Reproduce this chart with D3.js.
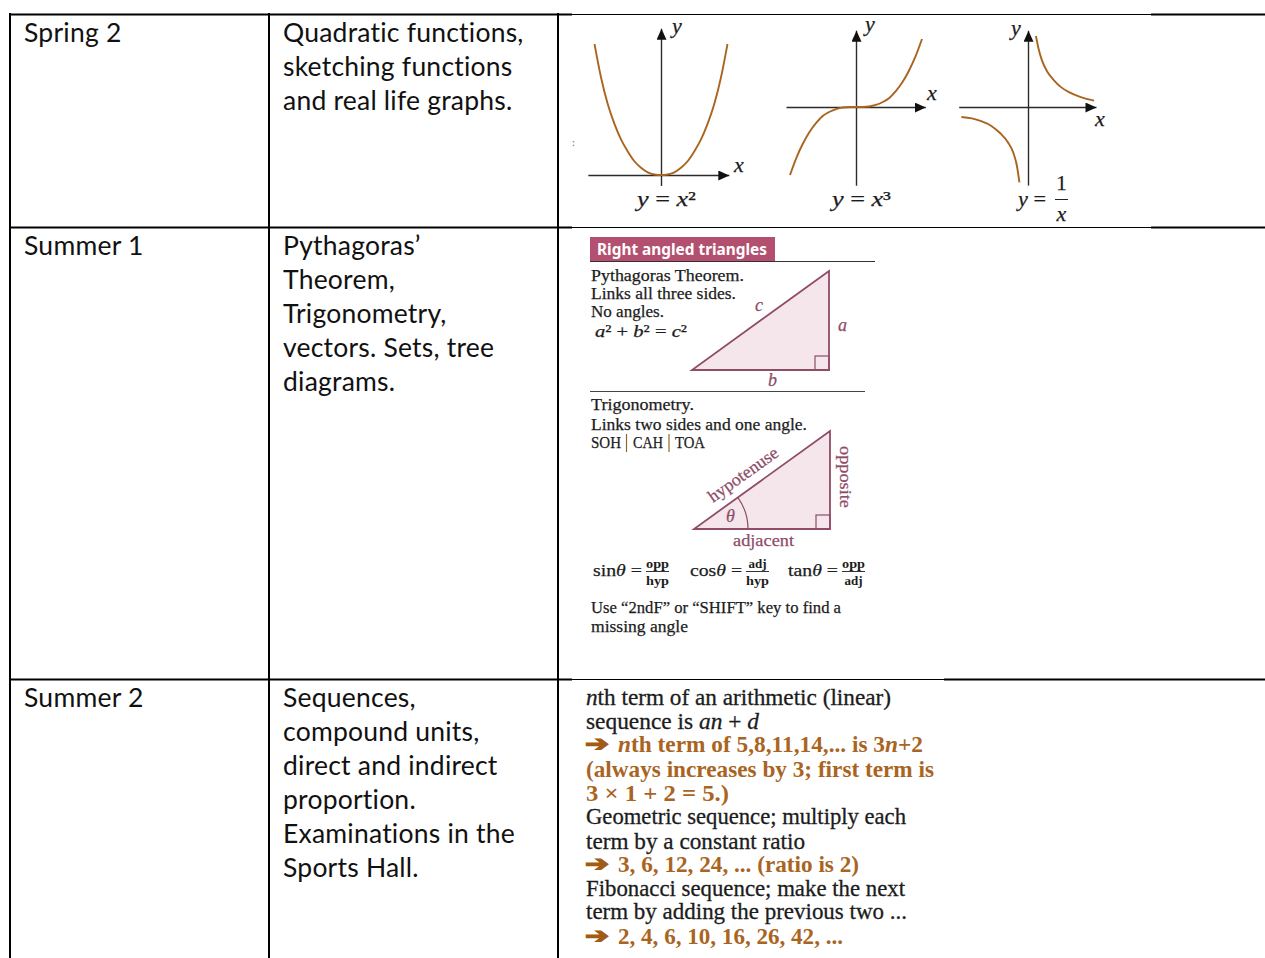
<!DOCTYPE html>
<html>
<head>
<meta charset="utf-8">
<script src="https://cdn.jsdelivr.net/npm/d3@7"></script>
<style>
html, body { margin: 0; padding: 0; background: #fff; overflow: hidden; }
svg { display: block; }
</style>
</head>
<body>
<script>
// table text
var terms = ["Spring 2", "Summer 1", "Summer 2"];
var topics = [
	["Quadratic functions,", "sketching functions", "and real life graphs."],
	["Pythagoras\u2019", "Theorem,", "Trigonometry,", "vectors. Sets, tree", "diagrams."],
	["Sequences,", "compound units,", "direct and indirect", "proportion.", "Examinations in the", "Sports Hall."]
];

// curves
var squareX = [-1, -0.9, -0.8, -0.7, -0.6, -0.5, -0.4, -0.3, -0.2, -0.1, 0, 0.1, 0.2, 0.3, 0.4, 0.5, 0.6, 0.7, 0.8, 0.9, 1];
var squareY = [1, 0.74, 0.54, 0.39, 0.27, 0.18, 0.105, 0.055, 0.02, 0.004, 0, 0.004, 0.02, 0.055, 0.105, 0.18, 0.27, 0.39, 0.54, 0.74, 1];
var cubeX = [-1, -0.9, -0.8, -0.7, -0.6, -0.5, -0.4, -0.3, -0.2, -0.1, 0, 0.1, 0.2, 0.3, 0.4, 0.5, 0.6, 0.7, 0.8, 0.9, 1];
var cubeY = [-1, -0.74, -0.53, -0.36, -0.23, -0.13, -0.07, -0.03, -0.008, -0.001, 0, 0.001, 0.008, 0.03, 0.07, 0.13, 0.23, 0.36, 0.53, 0.74, 1];
var hyperX1 = [0.12, 0.16, 0.21, 0.29, 0.39, 0.5, 0.62, 0.8, 1];
var hyperY1 = [1, 0.82, 0.66, 0.5, 0.38, 0.28, 0.21, 0.14, 0.09];
var hyperX2 = [-1.01, -0.85, -0.71, -0.55, -0.42, -0.31, -0.22, -0.17, -0.13];
var hyperY2 = [-0.14, -0.16, -0.2, -0.27, -0.37, -0.49, -0.65, -0.82, -1.06];

// triangle corners, as fractions of run and rise
var triangleX = [0, 1, 1];
var triangleY = [0, 0, 1];

// text beside the triangles
var pythagorasLines = ["Pythagoras Theorem.", "Links all three sides.", "No angles."];
var trigLines = ["Trigonometry.", "Links two sides and one angle."];
var soh = ["SOH", "CAH", "TOA"];
var ratioNames = ["sin", "cos", "tan"];
var ratioTop = ["opp", "adj", "opp"];
var ratioBottom = ["hyp", "hyp", "adj"];
var shiftLines = ["Use \u201C2ndF\u201D or \u201CSHIFT\u201D key to find a", "missing angle"];

// sequences, *...* is italic, kind 0 black, 1 brown, 2 brown with arrow
var seqLines = [
	"*n*th term of an arithmetic (linear)",
	"sequence is *an* + *d*",
	"*n*th term of 5,8,11,14,... is 3*n*+2",
	"(always increases by 3; first term is",
	"3 \u00D7 1 + 2 = 5.)",
	"Geometric sequence; multiply each",
	"term by a constant ratio",
	"3, 6, 12, 24, ... (ratio is 2)",
	"Fibonacci sequence; make the next",
	"term by adding the previous two ...",
	"2, 4, 6, 10, 16, 26, 42, ..."
];
var seqKind = [0, 0, 2, 1, 1, 0, 0, 2, 0, 0, 2];

var w = 1265, h = 958;
var svg = d3.select("body").append("svg").attr("width", w).attr("height", h);

var sans = "Lato, 'Open Sans', sans-serif";
var serif = "'Liberation Serif', serif";
var brown = "#a9651f", wine = "#8f4c68", ink = "#2b2b2b";

svg.append("defs").append("marker")
	.attr("id", "arrow")
	.attr("markerUnits", "userSpaceOnUse")
	.attr("markerWidth", 12).attr("markerHeight", 10)
	.attr("refX", 11).attr("refY", 5)
	.attr("orient", "auto")
	.append("path").attr("d", "M0,0L11,5L0,10Z").attr("fill", "#111");

// ---- table lines ----
var rowY = d3.scaleOrdinal().domain([0, 1, 2]).range([14, 227, 679]);
var rule = svg.append("g").attr("stroke", "#000");
function hline(x1, x2, y, sw) {
	rule.append("line").attr("x1", x1).attr("x2", x2).attr("y1", y).attr("y2", y).attr("stroke-width", sw);
}
function vline(x) {
	rule.append("line").attr("x1", x).attr("x2", x).attr("y1", 13).attr("y2", h).attr("stroke-width", 2);
}
[10, 269, 558].forEach(vline);
hline(9, 572, 14.5, 2); hline(572, 1151, 14.5, 1); hline(1151, w, 14.5, 2);
hline(9, 572, 227.5, 2); hline(572, 1151, 227.5, 1); hline(1151, w, 227.5, 2);
hline(9, 572, 679.5, 2); hline(572, 944, 679.5, 1); hline(944, w, 679.5, 2);

// ---- first two columns ----
terms.forEach(function(t, i) {
	svg.append("text").attr("x", 24).attr("y", rowY(i) + 28)
		.attr("font-family", sans).attr("font-size", 26.5).attr("fill", "#111")
		.attr("letter-spacing", 0.25)
		.text(t);
});
topics.forEach(function(lines, i) {
	svg.selectAll(null).data(lines).enter().append("text")
		.attr("x", 283)
		.attr("y", function(d, j) { return rowY(i) + 28 + j * 34; })
		.attr("font-family", sans).attr("font-size", 26.5).attr("fill", "#111")
		.attr("letter-spacing", 0.22)
		.text(function(d) { return d; });
});

// ---- graphs ----
function graph(xRange, yRange, yDomain, xExt, yExt, curves) {
	var x = d3.scaleLinear().domain([-1, 1]).range(xRange);
	var y = d3.scaleLinear().domain(yDomain).range(yRange);
	var xAxisScale = d3.scaleLinear().domain(xExt).range(xExt.map(x));
	var yAxisScale = d3.scaleLinear().domain(yExt).range(yExt.map(y));
	var g = svg.append("g");
	g.append("g").attr("transform", "translate(0," + y(0) + ")")
		.call(d3.axisBottom(xAxisScale).tickValues([]).tickSizeOuter(0));
	g.append("g").attr("transform", "translate(" + x(0) + ",0)")
		.call(d3.axisLeft(yAxisScale).tickValues([]).tickSizeOuter(0));
	g.selectAll(".domain").attr("stroke", ink).attr("stroke-width", 1.4).attr("marker-end", "url(#arrow)");
	var line = d3.line()
		.x(function(d) { return x(d[0]); })
		.y(function(d) { return y(d[1]); })
		.curve(d3.curveMonotoneX);
	curves.forEach(function(c) {
		g.append("path").attr("d", line(d3.zip(c[0], c[1])))
			.attr("fill", "none").attr("stroke", brown).attr("stroke-width", 1.9);
	});
}
graph([594.5, 727.5], [175, 44], [0, 1], [-1.1, 1.02], [-0.08, 1.12], [[squareX, squareY]]);
graph([790, 922], [175, 39], [-1, 1], [-1.06, 1.05], [-1.15, 1.13], [[cubeX, cubeY]]);
graph([962, 1094], [178, 36], [-1, 1], [-1.05, 1.03], [-1.1, 1.08], [[hyperX1, hyperY1], [hyperX2, hyperY2]]);

function label(x, y, s, size, fill, opts) {
	opts = opts || {};
	fill = fill || "#1c1c1c";
	var t = svg.append("text").attr("x", x).attr("y", y)
		.attr("font-family", opts.family || serif).attr("font-size", size).attr("fill", fill)
		.attr("stroke", fill).attr("stroke-width", opts.weight == null ? 0.25 : opts.weight)
		.attr("font-style", opts.italic ? "italic" : "normal")
		.attr("font-weight", opts.bold ? "bold" : "normal")
		.attr("text-anchor", opts.anchor || "start");
	if (opts.len) t.attr("textLength", opts.len).attr("lengthAdjust", "spacingAndGlyphs");
	if (opts.rotate != null) t.attr("transform", "rotate(" + opts.rotate + " " + x + " " + y + ")");
	// split *italic* pieces into tspans
	s.split("*").forEach(function(part, i) {
		if (part) t.append("tspan").attr("font-style", (i % 2 || opts.italic) ? "italic" : "normal").text(part);
	});
	return t;
}

var ital = { italic: true };
label(672, 33, "y", 22, null, ital);
label(734, 172, "x", 22, null, ital);
label(865, 31, "y", 22, null, ital);
label(927, 100, "x", 22, null, ital);
label(1011, 35, "y", 22, null, ital);
label(1095, 126, "x", 22, null, ital);
label(637, 206, "*y* = *x*\u00B2", 22, null, { len: 59 });
label(832, 206, "*y* = *x*\u00B3", 22, null, { len: 59 });
label(1018, 206, "*y* =", 22, null, { len: 28 });
label(1061.5, 190, "1", 21, null, { anchor: "middle" });
label(1061.5, 221, "x", 22, null, { anchor: "middle", italic: true });
svg.append("line").attr("x1", 1055).attr("x2", 1068).attr("y1", 199.5).attr("y2", 199.5).attr("stroke", "#222");
label(572, 146, ":", 10, "#5b8fc0");

// ---- right angled triangles ----
svg.append("rect").attr("x", 590).attr("y", 237).attr("width", 185).attr("height", 24).attr("fill", "#b4506f");
label(597, 255, "Right angled triangles", 15.5, "#fff", { bold: true, family: "'Noto Sans', sans-serif", len: 170, weight: 0 });
svg.append("line").attr("x1", 590).attr("x2", 875).attr("y1", 261.5).attr("y2", 261.5).attr("stroke", "#333");
svg.append("line").attr("x1", 590).attr("x2", 865).attr("y1", 391.5).attr("y2", 391.5).attr("stroke", "#444");

function triangle(xRange, yRange) {
	var x = d3.scaleLinear().domain([0, 1]).range(xRange);
	var y = d3.scaleLinear().domain([0, 1]).range(yRange);
	var line = d3.line().x(function(d) { return x(d[0]); }).y(function(d) { return y(d[1]); });
	svg.append("path").attr("d", line(d3.zip(triangleX, triangleY)) + "Z")
		.attr("fill", "#f5e6ec").attr("stroke", wine).attr("stroke-width", 1.8);
	svg.append("rect").attr("x", xRange[1] - 14).attr("y", yRange[0] - 14)
		.attr("width", 14).attr("height", 14)
		.attr("fill", "none").attr("stroke", wine).attr("stroke-width", 1.2);
}
triangle([692, 829], [370, 271]);
triangle([694, 830], [529, 431]);

svg.append("path")
	.attr("transform", "translate(694,529)")
	.attr("d", d3.arc().innerRadius(54).outerRadius(54).startAngle(0.95).endAngle(Math.PI / 2)())
	.attr("fill", "none").attr("stroke", wine).attr("stroke-width", 1.2);

var pythWidths = [153, 145, 73];
pythagorasLines.forEach(function(s, i) {
	label(591, [281, 299, 317][i], s, 17.5, "#1c1c1c", { len: pythWidths[i] });
});
label(595, 337, "*a*\u00B2 + *b*\u00B2 = *c*\u00B2", 17, "#1c1c1c", { len: 92 });
label(755, 311, "c", 18, wine, ital);
label(838, 331, "a", 18, wine, ital);
label(768, 386, "b", 18, wine, ital);

var trigWidths = [103, 216];
trigLines.forEach(function(s, i) {
	label(591, [410, 430][i], s, 17.5, "#1c1c1c", { len: trigWidths[i] });
});
var sohX = [591, 633, 675];
soh.forEach(function(s, i) {
	label(sohX[i], 448, s, 17.5, "#1c1c1c", { len: 30 });
});
[626.5, 669].forEach(function(x) {
	svg.append("line").attr("x1", x).attr("x2", x).attr("y1", 434).attr("y2", 452).attr("stroke", "#8a6a2a").attr("stroke-width", 1.2);
});

label(713, 503, "hypotenuse", 17.5, wine, { rotate: -35.5, len: 82 });
label(840, 446, "opposite", 17.5, wine, { rotate: 90, len: 62 });
label(733, 546, "adjacent", 17.5, wine, { len: 61 });
label(726, 522, "\u03B8", 18, wine, ital);

// sin / cos / tan fractions
var ratioX = [593, 690, 788];
var barX = [646, 746, 842];
var topWidths = [23, 18, 23];
var bottomWidths = [23, 23, 18];
ratioNames.forEach(function(s, i) {
	label(ratioX[i], 576, s + "*\u03B8* =", 17.5, "#1c1c1c", { len: barX[i] - ratioX[i] - 4 });
	label(barX[i] + (23 - topWidths[i]) / 2, 568, ratioTop[i], 12, "#1c1c1c", { bold: true, len: topWidths[i], weight: 0 });
	label(barX[i] + (23 - bottomWidths[i]) / 2, 585, ratioBottom[i], 12, "#1c1c1c", { bold: true, len: bottomWidths[i], weight: 0 });
	svg.append("line").attr("x1", barX[i]).attr("x2", barX[i] + 23).attr("y1", 571.5).attr("y2", 571.5).attr("stroke", "#333");
});

var shiftWidths = [250, 97];
shiftLines.forEach(function(s, i) {
	label(591, [613, 632][i], s, 17.5, "#1c1c1c", { len: shiftWidths[i] });
});

// ---- sequences ----
var seqBase = [705, 729, 752, 777, 801, 824, 849, 872, 896, 919, 944];
var seqWidths = [305, 173, 305, 348, 143, 320, 219, 241, 319, 321, 225];
seqLines.forEach(function(s, i) {
	var kind = seqKind[i];
	var col = kind ? brown : "#1c1c1c";
	label(kind == 2 ? 618 : 586, seqBase[i], s, 23, col, { bold: kind > 0, len: seqWidths[i], weight: kind ? 0 : 0.3 });
	if (kind == 2) label(585, seqBase[i] - 1, "\u2794", 21, "#a05c15", { family: "'DejaVu Sans', sans-serif", bold: true, len: 24, weight: 1.3 });
});
</script>
</body>
</html>
